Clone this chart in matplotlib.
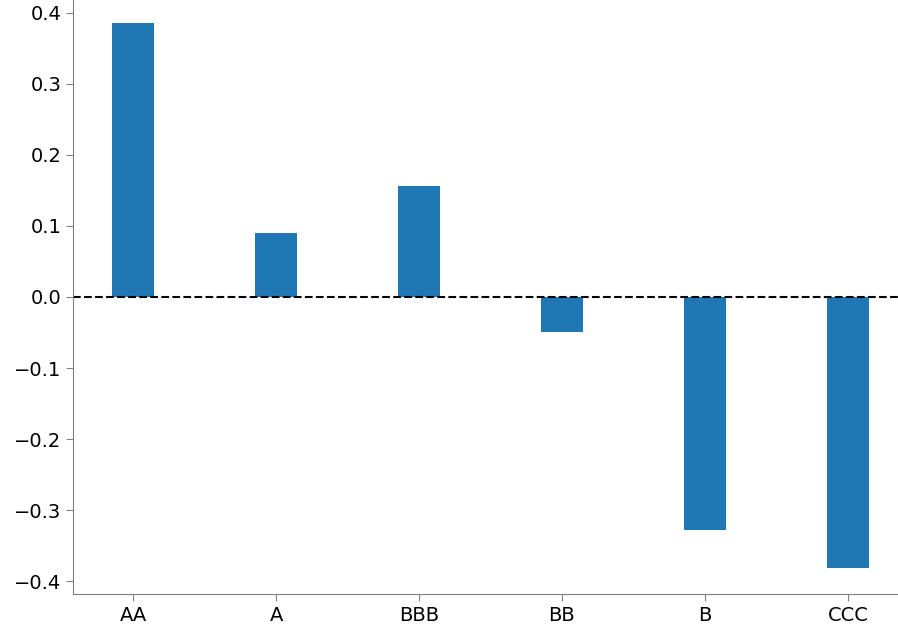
import matplotlib
matplotlib.use("Agg")
import matplotlib.pyplot as plt

categories = ["AA", "A", "BBB", "BB", "B", "CCC"]
values = [0.385, 0.090, 0.156, -0.049, -0.328, -0.382]

fig = plt.figure(figsize=(8.98, 6.36), dpi=100)
ax = fig.add_axes([73/898, 1-594/636, (898-73)/898, 594/636])
x = range(len(categories))
ax.bar(x, values, width=0.3, color="#1f77b4")
ax.axhline(0, color="black", linestyle="--", linewidth=1.5)
ax.set_xticks(list(x))
ax.set_xticklabels(categories)
ax.set_xlim(-0.42, 5.35)
ax.set_ylim(-0.418, 0.418)
ax.set_yticks([-0.4, -0.3, -0.2, -0.1, 0.0, 0.1, 0.2, 0.3, 0.4])
for s in ["top", "right"]:
    ax.spines[s].set_visible(False)
for s in ["left", "bottom"]:
    ax.spines[s].set_color("gray")
ax.tick_params(colors="gray", labelcolor="black", labelsize=14, length=5)
fig.savefig("out.png", dpi=100)
